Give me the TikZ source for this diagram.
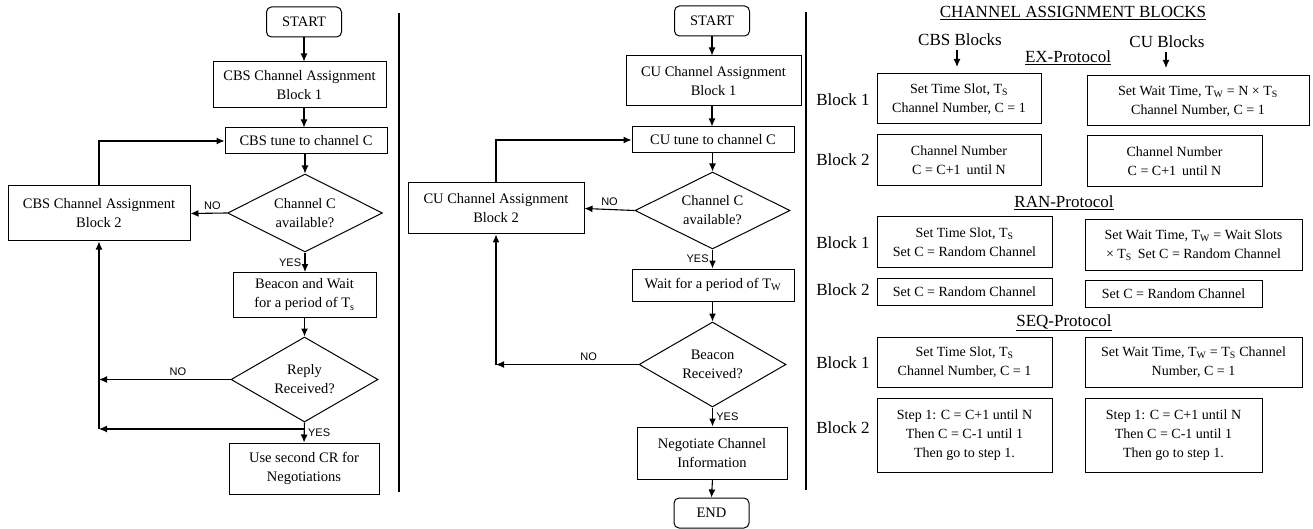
\documentclass[tikz,border=0pt]{standalone}
\usepackage{fontspec}
\setmainfont{Liberation Serif}
\setsansfont{Liberation Sans}
\usetikzlibrary{shapes.geometric,arrows.meta}
\tikzset{
	box/.style = {draw, line width=1pt, align=center, inner sep=0pt, font=\fontsize{14.5}{19}\selectfont},
	term/.style = {box, rounded corners=5pt, minimum width=75pt, minimum height=30pt},
	decision/.style = {diamond, draw, line width=1pt, align=center, inner sep=0pt, aspect=2, font=\fontsize{14.5}{19}\selectfont},
	flow/.style = {line width=1.1pt, ->},
	yesno/.style = {font=\sffamily\fontsize{11}{12}\selectfont},
	head/.style = {font=\fontsize{17}{19}\selectfont},
	blk/.style = {box, font=\fontsize{14}{19}\selectfont},
	sep/.style = {line width=2pt}
}
\begin{document}
\begin{tikzpicture}[x=1pt, y=-1pt, >={Latex[length=8pt,width=7pt]}]
	\useasboundingbox (0,0) rectangle (1313,529);
	% CBS flow
	\node[term] (lstart) at (304,22) {START};
	\node[box, minimum width=173pt, minimum height=46pt] (lb1) at (299.5,85) {CBS Channel Assignment\\Block 1};
	\node[box, minimum width=162pt, minimum height=26pt] (ltune) at (306,141) {CBS tune to channel C};
	\node[decision, minimum width=155pt, minimum height=78pt] (lavail) at (305,213) {Channel C\\available?};
	\node[box, minimum width=182pt, minimum height=55pt] (lb2) at (99,213.5) {CBS Channel Assignment\\Block 2};
	\node[box, minimum width=143pt, minimum height=45pt] (lbeacon) at (304.5,295) {Beacon and Wait\\for a period of T\textsubscript{s}};
	\node[decision, minimum width=147pt, minimum height=85pt] (lreply) at (304.5,379.5) {Reply\\Received?};
	\node[box, minimum width=150pt, minimum height=51pt] (luse) at (304,468.5) {Use second CR for\\Negotiations};
	\coordinate (ljoin) at (304.5,429);
	\draw[flow] (lstart) -- (lstart |- lb1.north);
	\draw[flow] (lstart |- lb1.south) -- (lstart |- ltune.north);
	\draw[flow] (lavail |- ltune.south) -- (lavail.north);
	\draw[flow] (lavail.west) -- (lb2.east) node[yesno, pos=0.4, above] {NO};
	\draw[flow] (lb2.north) |- (ltune.west);
	\draw[flow] (lavail.south) -- (lavail |- lbeacon.north) node[yesno, pos=0.5, left] {YES};
	\draw[flow] (lbeacon.south) -- (lreply.north);
	\draw[flow] (lreply.west) -- (lreply.west -| lb2) node[yesno, pos=0.4, above] {NO};
	\draw[flow] (lreply.south) -- (luse.north) node[yesno, pos=0.5, right] {YES};
	\draw[flow] (ljoin) -- (ljoin -| lb2);
	\draw[flow] (ljoin -| lb2) -- (lb2.south);
	\draw[sep] (399,13) -- (399,492);
	% CU flow
	\node[term] (mstart) at (712,21) {START};
	\node[box, minimum width=175pt, minimum height=50pt] (mb1) at (713.5,81) {CU Channel Assignment\\Block 1};
	\node[box, minimum width=162pt, minimum height=26pt] (mtune) at (713,140) {CU tune to channel C};
	\node[decision, minimum width=155pt, minimum height=77pt] (mavail) at (712.5,210.5) {Channel C\\available?};
	\node[box, minimum width=176pt, minimum height=51pt] (mb2) at (496,208.5) {CU Channel Assignment\\Block 2};
	\node[box, minimum width=162pt, minimum height=32pt] (mwait) at (713,285) {Wait for a period of T\textsubscript{W}};
	\node[decision, minimum width=147pt, minimum height=85pt] (mbeacon) at (712.5,364.5) {Beacon\\Received?};
	\node[box, minimum width=150pt, minimum height=52pt] (mneg) at (712,453) {Negotiate Channel\\Information};
	\node[term] (mend) at (711.5,513) {END};
	\draw[flow] (mstart) -- (mstart |- mb1.north);
	\draw[flow] (mstart |- mb1.south) -- (mstart |- mtune.north);
	\draw[flow] (mavail |- mtune.south) -- (mavail.north);
	\draw[flow] (mavail.west) -- (mb2.east) node[yesno, pos=0.5, above] {NO};
	\draw[flow] (mb2.north) |- (mtune.west);
	\draw[flow] (mavail.south) -- (mavail |- mwait.north) node[yesno, pos=0.5, left] {YES};
	\draw[flow] (mavail |- mwait.south) -- (mbeacon.north);
	\draw[flow] (mbeacon.west) -- (mbeacon.west -| mb2) node[yesno, pos=0.35, above] {NO};
	\draw[flow] (mbeacon.west -| mb2) -- (mb2.south);
	\draw[flow] (mbeacon.south) -- (mbeacon |- mneg.north) node[yesno, pos=0.5, right] {YES};
	\draw[flow] (mbeacon |- mneg.south) -- (mend.north);
	\draw[sep] (806,12) -- (806,490);
	% channel assignment blocks
	\node[head] (title) at (1073,13) {\underline{CHANNEL ASSIGNMENT BLOCKS}};
	\node[head] (cbshead) at (960,40) {CBS Blocks};
	\node[head] (cuhead) at (1167,42) {CU Blocks};
	\coordinate (cbsdown) at (957,67);
	\coordinate (cudown) at (1166,68);
	\draw[flow] (cbsdown |- cbshead.south) -- (cbsdown);
	\draw[flow] (cudown |- cuhead.south) -- (cudown);
	\node[head] (exhead) at (1068,58) {\underline{EX-Protocol}};
	\node[head] (ranhead) at (1064,203) {\underline{RAN-Protocol}};
	\node[head] (seqhead) at (1064,323) {\underline{SEQ-Protocol}};
	\node[head] (exl1) at (843,100) {Block 1};
	\node[head] (exl2) at (843,160) {Block 2};
	\node[head] (ranl1) at (843,243) {Block 1};
	\node[head] (ranl2) at (843,290) {Block 2};
	\node[head] (seql1) at (843,363) {Block 1};
	\node[head] (seql2) at (843,428) {Block 2};
	\node[blk, minimum width=164pt, minimum height=50pt] (excbs1) at (959,99) {Set Time Slot, T\textsubscript{S}\\Channel Number, C = 1};
	\node[blk, minimum width=222pt, minimum height=50pt] (excu1) at (1198,101) {Set Wait Time, T\textsubscript{W} = N × T\textsubscript{S}\\Channel Number, C = 1};
	\node[blk, minimum width=164pt, minimum height=51pt] (excbs2) at (959,160.5) {Channel Number\\C = C+1\, until N};
	\node[blk, minimum width=175pt, minimum height=51pt] (excu2) at (1174.5,161.5) {Channel Number\\C = C+1\, until N};
	\node[blk, minimum width=175pt, minimum height=50pt] (rancbs1) at (964.5,242) {Set Time Slot, T\textsubscript{S}\\Set C = Random Channel};
	\node[blk, minimum width=217pt, minimum height=50pt] (rancu1) at (1193.5,245) {Set Wait Time, T\textsubscript{W} = Wait Slots\\× T\textsubscript{S}\, Set C = Random Channel};
	\node[blk, minimum width=175pt, minimum height=27pt] (rancbs2) at (964.5,291.5) {Set C = Random Channel};
	\node[blk, minimum width=177pt, minimum height=27pt] (rancu2) at (1173.5,293.5) {Set C = Random Channel};
	\node[blk, minimum width=175pt, minimum height=50pt] (seqcbs1) at (964.5,362) {Set Time Slot, T\textsubscript{S}\\Channel Number, C = 1};
	\node[blk, minimum width=217pt, minimum height=50pt] (seqcu1) at (1193.5,362) {Set Wait Time, T\textsubscript{W} = T\textsubscript{S} Channel\\Number, C = 1};
	\node[blk, minimum width=175pt, minimum height=74pt] (seqcbs2) at (964.5,435) {Step 1: C = C+1 until N\\Then C = C-1 until 1\\Then go to step 1.};
	\node[blk, minimum width=177pt, minimum height=74pt] (seqcu2) at (1173.5,435) {Step 1: C = C+1 until N\\Then C = C-1 until 1\\Then go to step 1.};
\end{tikzpicture}
\end{document}
